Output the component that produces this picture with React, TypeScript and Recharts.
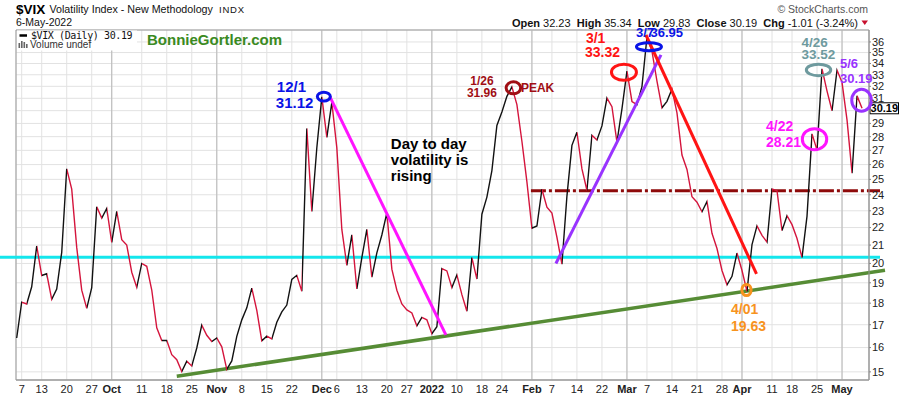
import React from 'react';
import {
  LineChart,
  Line,
  XAxis,
  YAxis,
  CartesianGrid,
  ReferenceLine,
  ReferenceDot,
  ReferenceArea,
} from 'recharts';

// trading days, Sep 3 2021 .. May 6 2022
const months = ['2021-09', '2021-10', '2021-11', '2021-12', '2022-01', '2022-02', '2022-03', '2022-04', '2022-05'];
const sepDays = [3, 7, 8, 9, 10, 13, 14, 15, 16, 17, 20, 21, 22, 23, 24, 27, 28, 29, 30];
const octDays = [1, 4, 5, 6, 7, 8, 11, 12, 13, 14, 15, 18, 19, 20, 21, 22, 25, 26, 27, 28, 29];
const novDays = [1, 2, 3, 4, 5, 8, 9, 10, 11, 12, 15, 16, 17, 18, 19, 22, 23, 24, 26, 29, 30];
const decDays = [1, 2, 3, 6, 7, 8, 9, 10, 13, 14, 15, 16, 17, 20, 21, 22, 23, 27, 28, 29, 30, 31];
const janDays = [3, 4, 5, 6, 7, 10, 11, 12, 13, 14, 18, 19, 20, 21, 24, 25, 26, 27, 28, 31];
const febDays = [1, 2, 3, 4, 7, 8, 9, 10, 11, 14, 15, 16, 17, 18, 22, 23, 24, 25, 28];
const marDays = [1, 2, 3, 4, 7, 8, 9, 10, 11, 14, 15, 16, 17, 18, 21, 22, 23, 24, 25, 28, 29, 30, 31];
const aprDays = [1, 4, 5, 6, 7, 8, 11, 12, 13, 14, 18, 19, 20, 21, 22, 25, 26, 27, 28, 29];
const mayDays = [2, 3, 4, 5, 6];

// daily closes
const vixSep = [16.41, 18.05, 17.96, 18.8, 20.95, 19.37, 19.46, 18.18, 18.69, 20.6, 25.71, 24.36, 20.87, 18.63, 17.75, 18.76, 23.25, 22.56, 23.14];
const vixOct = [21.15, 22.96, 21.3, 21.0, 19.54, 18.77, 20.0, 19.85, 18.64, 16.86, 16.3, 16.3, 15.7, 15.49, 15.01, 15.43, 15.24, 15.98, 16.98, 16.53, 16.26];
const vixNov = [16.41, 16.03, 15.1, 15.44, 16.48, 17.22, 17.78, 18.73, 17.66, 16.29, 16.49, 16.37, 17.11, 17.59, 17.91, 19.17, 19.38, 18.58, 28.62, 22.96, 27.19];
const vixDec = [31.12, 27.95, 30.67, 27.18, 21.89, 19.9, 21.58, 18.69, 20.31, 21.89, 19.29, 20.57, 21.57, 22.87, 19.7, 18.63, 17.96, 17.68, 17.54, 16.95, 17.33, 17.22];
const vixJan = [16.6, 16.91, 19.73, 19.61, 18.76, 19.4, 18.41, 17.62, 20.31, 19.19, 22.79, 23.85, 25.59, 28.85, 29.9, 31.16, 31.96, 30.49, 27.66, 24.83];
const vixFeb = [21.96, 22.09, 24.35, 23.22, 22.86, 21.44, 19.96, 23.91, 27.36, 28.33, 25.7, 24.29, 28.11, 27.75, 28.81, 31.02, 30.32, 27.59, 30.15];
const vixMar = [33.32, 30.74, 30.48, 31.98, 36.45, 35.13, 32.45, 30.23, 30.75, 31.77, 29.83, 26.67, 25.67, 23.87, 23.53, 22.94, 23.57, 21.67, 20.81, 19.63, 18.9, 19.33, 20.56];
const vixApr = [19.63, 18.57, 21.03, 22.1, 21.55, 21.16, 24.37, 24.26, 21.82, 22.7, 22.17, 21.37, 20.32, 22.68, 28.21, 27.02, 33.52, 31.6, 29.99, 33.4];
const vixMay = [32.34, 29.25, 25.42, 31.2, 30.19];

const tradingDays = [sepDays, octDays, novDays, decDays, janDays, febDays, marDays, aprDays, mayDays];
const vixByMonth = [vixSep, vixOct, vixNov, vixDec, vixJan, vixFeb, vixMar, vixApr, vixMay];

const dates = months.flatMap((m, k) => tradingDays[k].map((d) => `${m}-${String(d).padStart(2, '0')}`));
const vix = vixByMonth.flat();
const rows = dates.map((date, i) => ({ i, date, vix: vix[i] }));

const xTickDates = [
  '2021-09-07', '2021-09-13', '2021-09-20', '2021-09-27', '2021-10-01', '2021-10-11', '2021-10-18', '2021-10-25',
  '2021-11-01', '2021-11-08', '2021-11-15', '2021-11-22', '2021-12-01', '2021-12-06', '2021-12-13', '2021-12-20',
  '2021-12-27', '2022-01-03', '2022-01-10', '2022-01-18', '2022-01-24', '2022-02-01', '2022-02-07', '2022-02-14',
  '2022-02-22', '2022-03-01', '2022-03-07', '2022-03-14', '2022-03-21', '2022-03-28', '2022-04-01', '2022-04-11',
  '2022-04-18', '2022-04-25', '2022-05-02',
];
const xTickLabels = [
  '7', '13', '20', '27', 'Oct', '11', '18', '25', 'Nov', '8', '15', '22', 'Dec', '6', '13', '20',
  '27', '2022', '10', '18', '24', 'Feb', '7', '14', '22', 'Mar', '7', '14', '21', '28', 'Apr', '11',
  '18', '25', 'May',
];
const monthLabels = ['Oct', 'Nov', 'Dec', '2022', 'Feb', 'Mar', 'Apr', 'May'];
const yTicks = [15, 16, 17, 18, 19, 20, 21, 22, 23, 24, 25, 26, 27, 28, 29, 30, 31, 32, 33, 34, 35, 36];

const xTicks = xTickDates.map((d) => dates.indexOf(d));
const labelAt = (i: number) => xTickLabels[xTicks.indexOf(i)] ?? '';

const xDomain: [number, number] = [-0.14, 170.39];
const yDomain: [number, number] = [14.68, 37.16];

const UP = '#111111';
const DOWN = '#d4143c';
const BLUE = '#0a14e6';
const RED = '#ff1414';
const DARKRED = '#a00e14';
const ORANGE = '#f7931e';
const MAGENTA = '#ff14ff';
const GRAYTEAL = '#6e9a9e';
const PURPLE = '#9933ff';
const FONT = '"Liberation Sans", Arial, Helvetica, sans-serif';

// hand-drawn markup on the chart, in (trading-day index, value)
const rings = [
  { i: 61.4, v: 31.14, rx: 6.5, ry: 4.3, color: BLUE },
  { i: 99.3, v: 31.87, rx: 7.3, ry: 6, color: DARKRED },
  { i: 121.4, v: 33.22, rx: 12.5, ry: 8, color: RED },
  { i: 126.4, v: 35.55, rx: 12.5, ry: 4, color: BLUE },
  { i: 145.9, v: 18.64, rx: 4.6, ry: 5.6, color: ORANGE },
  { i: 159.5, v: 27.81, rx: 12.2, ry: 10.6, color: MAGENTA },
  { i: 160.3, v: 33.42, rx: 12.2, ry: 5.7, color: GRAYTEAL },
  { i: 168.9, v: 30.84, rx: 9.8, ry: 11, color: PURPLE },
];

const trends = [
  { from: [62.6, 31.14], to: [85.8, 16.55], color: MAGENTA },
  { from: [107.8, 20.0], to: [128.8, 34.78], color: PURPLE },
  { from: [125.8, 36.67], to: [147.9, 19.45], color: RED },
];

type Note = { i: number; v: number; text: string; color: string; size: number; anchor?: 'start' | 'middle' };
const notes: Note[] = [
  { i: 52.0, v: 31.55, text: '12/1', color: BLUE, size: 15 },
  { i: 51.8, v: 30.19, text: '31.12', color: BLUE, size: 15 },
  { i: 93.0, v: 32.1, text: '1/26', color: DARKRED, size: 12, anchor: 'middle' },
  { i: 93.0, v: 31.07, text: '31.96', color: DARKRED, size: 12, anchor: 'middle' },
  { i: 100.8, v: 31.55, text: 'PEAK', color: DARKRED, size: 12 },
  { i: 113.8, v: 35.88, text: '3/1', color: RED, size: 14 },
  { i: 113.6, v: 34.57, text: '33.32', color: RED, size: 14 },
  { i: 123.8, v: 36.51, text: '3/7', color: BLUE, size: 13 },
  { i: 126.7, v: 36.51, text: '36.95', color: BLUE, size: 13 },
  { i: 74.8, v: 27.1, text: 'Day to day', color: '#000', size: 15 },
  { i: 74.8, v: 25.97, text: 'volatility is', color: '#000', size: 15 },
  { i: 74.8, v: 24.89, text: 'rising', color: '#000', size: 15 },
  { i: 142.8, v: 17.48, text: '4/01', color: ORANGE, size: 14 },
  { i: 142.8, v: 16.72, text: '19.63', color: ORANGE, size: 14 },
  { i: 149.8, v: 28.43, text: '4/22', color: MAGENTA, size: 14 },
  { i: 149.8, v: 27.27, text: '28.21', color: MAGENTA, size: 14 },
  { i: 156.9, v: 35.48, text: '4/26', color: GRAYTEAL, size: 13.5 },
  { i: 156.9, v: 34.39, text: '33.52', color: GRAYTEAL, size: 13.5 },
  { i: 164.6, v: 33.58, text: '5/6', color: PURPLE, size: 13 },
  { i: 164.6, v: 32.26, text: '30.19', color: PURPLE, size: 13 },
];

const lastClose = vix[vix.length - 1];

// line that keeps going past the plot edge, to a fixed pixel x
const extendedLine = (xEnd: number, color: string, width: number, dash?: string) => (p: any) => {
  const xa = Math.min(p.x1, p.x2);
  const ya = p.x1 <= p.x2 ? p.y1 : p.y2;
  const slope = p.x2 === p.x1 ? 0 : (p.y2 - p.y1) / (p.x2 - p.x1);
  return (
    <line x1={xa} y1={ya} x2={xEnd} y2={ya + slope * (xEnd - xa)} stroke={color} strokeWidth={width} strokeDasharray={dash} />
  );
};

const XTick = (p: any) => {
  const label = labelAt(p.payload.value);
  const bold = monthLabels.includes(label);
  return (
    <text x={p.x} y={p.y} dy="0.71em" textAnchor="middle" fontSize={11} fontFamily={FONT} fontWeight={bold ? 'bold' : 'normal'} fill="#222">
      {label}
    </text>
  );
};

const YTick = (p: any) => {
  if (p.payload.value === 30) return <g />;
  return (
    <text x={p.x} y={p.y} dy="0.355em" textAnchor="start" fontSize={11} fontFamily={FONT} fill="#222">
      {p.payload.value}
    </text>
  );
};

const App: React.FC = () => {
  const n = rows.length;
  const stops: React.ReactElement[] = [];
  for (let k = 0; k < n - 1; k++) {
    const c = rows[k + 1].vix >= rows[k].vix ? UP : DOWN;
    stops.push(<stop key={`a${k}`} offset={k / (n - 1)} stopColor={c} />);
    stops.push(<stop key={`b${k}`} offset={(k + 1) / (n - 1)} stopColor={c} />);
  }

  return (
    <div style={{ position: 'absolute', left: 0, top: 0, width: 900, height: 396, background: '#fff', fontFamily: FONT }}>
      <LineChart width={900} height={396} data={rows} margin={{ top: 30, right: 0, bottom: 0, left: 16 }}>
        <defs>
          <linearGradient id="vixUpDown" x1="0" y1="0" x2="1" y2="0">
            {stops}
          </linearGradient>
        </defs>
        <CartesianGrid stroke="#e2e2e2" strokeWidth={1} />
        <XAxis
          type="number"
          dataKey="i"
          domain={xDomain}
          allowDataOverflow
          ticks={xTicks}
          interval={0}
          height={16}
          tickSize={3}
          tickMargin={2}
          tickLine={false}
          axisLine={{ stroke: '#999' }}
          tick={(p: any) => <XTick {...p} />}
        />
        <YAxis
          orientation="right"
          type="number"
          scale="log"
          domain={yDomain}
          allowDataOverflow
          ticks={yTicks}
          interval={0}
          width={31}
          tickSize={2}
          tickMargin={1}
          tickLine={{ stroke: '#888' }}
          axisLine={{ stroke: '#999' }}
          tick={(p: any) => <YTick {...p} />}
        />
        {xTicks
          .filter((t) => monthLabels.includes(labelAt(t)))
          .map((t) => (
            <ReferenceLine key={`m${t}`} x={t} stroke="#b8b8b8" strokeWidth={1} />
          ))}
        <ReferenceArea x1={xDomain[0]} x2={xDomain[1]} y1={yDomain[0]} y2={yDomain[1]} fill="none" stroke="#999" strokeWidth={1} />

        <ReferenceLine y={20.33} shape={(p: any) => <line x1={0} y1={p.y1} x2={880} y2={p.y1} stroke="#14e6ec" strokeWidth={3} />} />
        <ReferenceLine
          segment={[{ x: 102.8, y: 24.25 }, { x: 169, y: 24.25 }]}
          shape={extendedLine(880, '#8e0a0a', 3, '15 3 3 3')}
        />
        <ReferenceLine
          segment={[{ x: 32.0, y: 14.83 }, { x: 169, y: 19.46 }]}
          shape={extendedLine(885, '#568c35', 3.5)}
        />

        <Line
          type="linear"
          dataKey="vix"
          stroke="url(#vixUpDown)"
          strokeWidth={1.4}
          dot={false}
          activeDot={false}
          isAnimationActive={false}
        />

        {trends.map((t, k) => (
          <ReferenceLine
            key={`t${k}`}
            segment={[{ x: t.from[0], y: t.from[1] }, { x: t.to[0], y: t.to[1] }]}
            stroke={t.color}
            strokeWidth={3}
          />
        ))}
        {rings.map((r, k) => (
          <ReferenceDot
            key={`r${k}`}
            x={r.i}
            y={r.v}
            r={1}
            shape={(p: any) => <ellipse cx={p.cx} cy={p.cy} rx={r.rx} ry={r.ry} fill="none" stroke={r.color} strokeWidth={3} />}
          />
        ))}
        {notes.map((t, k) => (
          <ReferenceDot
            key={`n${k}`}
            x={t.i}
            y={t.v}
            r={1}
            shape={(p: any) => (
              <text x={p.cx} y={p.cy} fontSize={t.size} fontWeight="bold" fontFamily={FONT} fill={t.color} textAnchor={t.anchor ?? 'start'}>
                {t.text}
              </text>
            )}
          />
        ))}
        <ReferenceLine
          y={lastClose}
          shape={(p: any) => {
            const right = Math.max(p.x1, p.x2);
            return (
              <g>
                <rect x={right + 1} y={p.y1 - 5.5} width={28.5} height={11} fill="#fff" stroke="#000" strokeWidth={1} />
                <text x={right + 15.3} y={p.y1 + 4} textAnchor="middle" fontSize={11} fontWeight="bold" fontFamily={FONT} fill="#000">
                  {lastClose.toFixed(2)}
                </text>
              </g>
            );
          }}
        />
      </LineChart>

      <svg width={900} height={396} style={{ position: 'absolute', left: 0, top: 0, pointerEvents: 'none' }} fontFamily={FONT}>
        <text x={16} y={13.5} fontSize={13.5} fontWeight="bold" fill="#000">$VIX</text>
        <text x={49.5} y={13} fontSize={10.7} fill="#111">Volatility Index - New Methodology</text>
        <text x={219} y={13} fontSize={9.5} letterSpacing={0.8} fill="#111">INDX</text>
        <text x={16} y={26} fontSize={10.5} fill="#111">6-May-2022</text>
        <text x={868} y={13} fontSize={10.5} fill="#555" textAnchor="end">© StockCharts.com</text>
        <text x={858} y={26.5} fontSize={11} textAnchor="end" fill="#111" style={{ whiteSpace: 'pre' }}>
          <tspan fontWeight="bold">Open</tspan>
          {' 32.23  '}
          <tspan fontWeight="bold">High</tspan>
          {' 35.34  '}
          <tspan fontWeight="bold">Low</tspan>
          {' 29.83  '}
          <tspan fontWeight="bold">Close</tspan>
          {' 30.19  '}
          <tspan fontWeight="bold">Chg</tspan>
          {' -1.01 (-3.24%)'}
        </text>
        <polygon points="861.5,20.5 868,20.5 864.75,25" fill="#c8102e" />

        <rect x={17} y={30.5} width={120} height={20} fill="#fff" />
        <line x1={19.5} y1={35.5} x2={27} y2={35.5} stroke="#000" strokeWidth={2.5} />
        <text x={31} y={39} fontSize={10} fontFamily='"DejaVu Sans Mono", "Liberation Mono", monospace' letterSpacing={-0.4} fill="#111">
          $VIX (Daily) 30.19
        </text>
        <g fill="#666">
          <rect x={18.5} y={43} width={1.6} height={5} />
          <rect x={21} y={41} width={1.6} height={7} />
          <rect x={23.5} y={42} width={1.6} height={6} />
          <rect x={26} y={44} width={1.6} height={4} />
        </g>
        <text x={30} y={48} fontSize={10} fill="#333">Volume undef</text>

        <text x={147} y={45} fontSize={15} fontWeight="bold" fill="#3a8a22">BonnieGortler.com</text>
      </svg>
    </div>
  );
};

export default App;
